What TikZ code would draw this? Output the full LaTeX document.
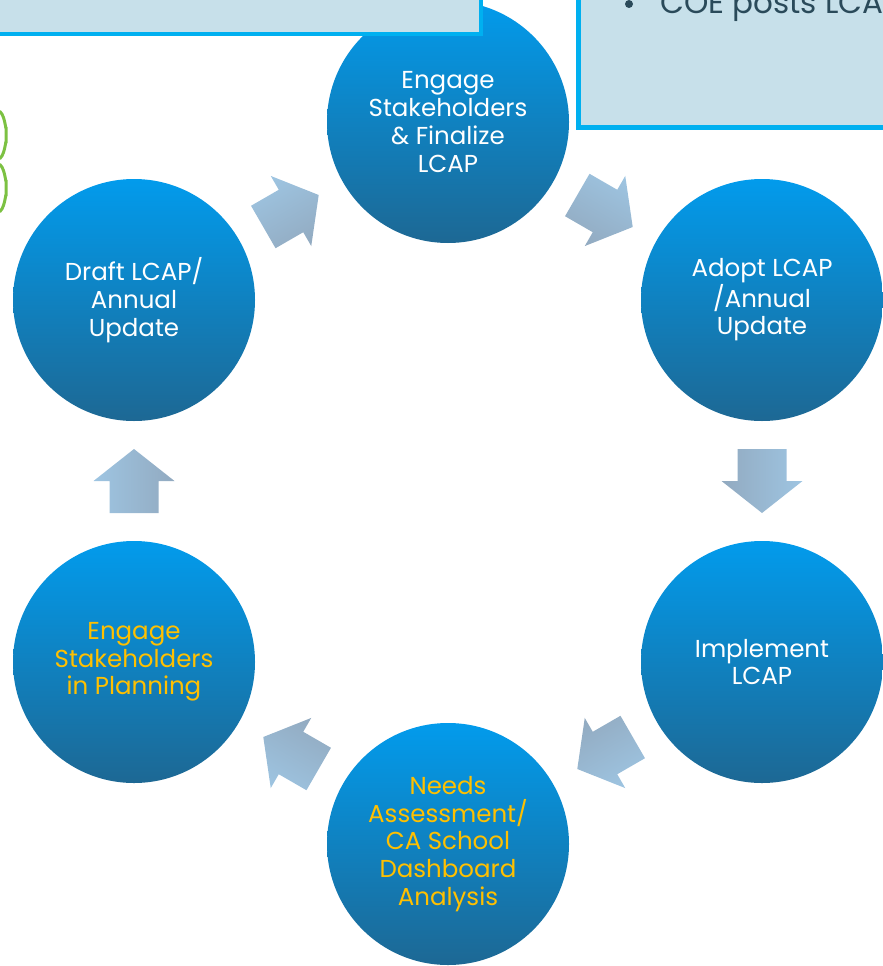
\documentclass[tikz,border=0pt]{standalone}
\usepackage{fontspec}
\setmainfont{Poppins}
\usetikzlibrary{calc}

\definecolor{circtop}{RGB}{2,155,236}
\definecolor{circbot}{RGB}{29,104,148}
\definecolor{arrlight}{RGB}{158,197,226}
\definecolor{arrdark}{RGB}{146,170,192}
\definecolor{boxfill}{RGB}{199,224,234}
\definecolor{boxline}{RGB}{0,176,240}
\definecolor{stepgold}{RGB}{255,192,0}
\definecolor{notegreen}{RGB}{124,193,66}
\definecolor{notetext}{RGB}{42,74,90}

\newcommand{\blockarrow}[2]{%
  \begin{scope}[transform canvas={shift={(#1)}, rotate=#2}]
    \shade[top color=arrlight, bottom color=arrdark] (-32pt,-24.5pt) -- (0pt,-24.5pt) -- (0pt,-40.5pt) -- (32pt,0pt)
      -- (0pt,40.5pt) -- (0pt,24.5pt) -- (-32pt,24.5pt) -- cycle;
  \end{scope}}

\begin{document}
\begin{tikzpicture}[x=1pt, y=-1pt,
    stage/.style={circle, minimum size=242pt, inner sep=0pt, top color=circtop, bottom color=circbot,
      text=white, align=center, font=\fontsize{24.5}{27.7}\selectfont},
    planstage/.style={stage, text=stepgold}]
    \clip (0,0) rectangle (883,966);

    \node[stage] (finalize) at (448,122) {Engage\\Stakeholders\\\& Finalize\\LCAP};
    \node[stage] (adopt) at (762,300) {Adopt LCAP\\/Annual\\Update};
    \node[stage] (implement) at (762,662) {Implement\\LCAP};
    \node[planstage] (needs) at (448,844) {Needs\\Assessment/\\CA School\\Dashboard\\Analysis};
    \node[planstage] (planning) at (134,662) {Engage\\Stakeholders\\in Planning};
    \node[stage] (draft) at (134,300) {Draft LCAP/\\Annual\\Update};

    \coordinate (a1) at ($(draft)!0.5!(finalize)$);
    \coordinate (a2) at ($(finalize)!0.5!(adopt)$);
    \coordinate (a3) at ($(adopt)!0.5!(implement)$);
    \coordinate (a4) at ($(implement)!0.5!(needs)$);
    \coordinate (a5) at ($(needs)!0.5!(planning)$);
    \coordinate (a6) at ($(planning)!0.5!(draft)$);
    \blockarrow{a1}{30}
    \blockarrow{a2}{-30}
    \blockarrow{a3}{-90}
    \blockarrow{a4}{-150}
    \blockarrow{a5}{150}
    \blockarrow{a6}{90}

    \draw[boxline, line width=4.5pt, fill=boxfill] (-10,-10) rectangle (481,34);
    \draw[boxline, line width=4.5pt, fill=boxfill] (578.5,127.5) rectangle (900,-10);
    \fill[notetext] (629,4) circle (4);
    \node[anchor=base west, inner sep=0pt, text=notetext, font=\fontsize{31}{34}\selectfont] (note) at (660,14) {COE posts LCA};

    \draw[notegreen, line width=3pt] (-2,111) to[out=0, in=-90] (6,127) -- (6,143) to[out=90, in=0] (-2,159);
    \draw[notegreen, line width=3pt] (-2,164) to[out=0, in=-90] (6,180) -- (6,196) to[out=90, in=0] (-2,212);
\end{tikzpicture}
\end{document}
